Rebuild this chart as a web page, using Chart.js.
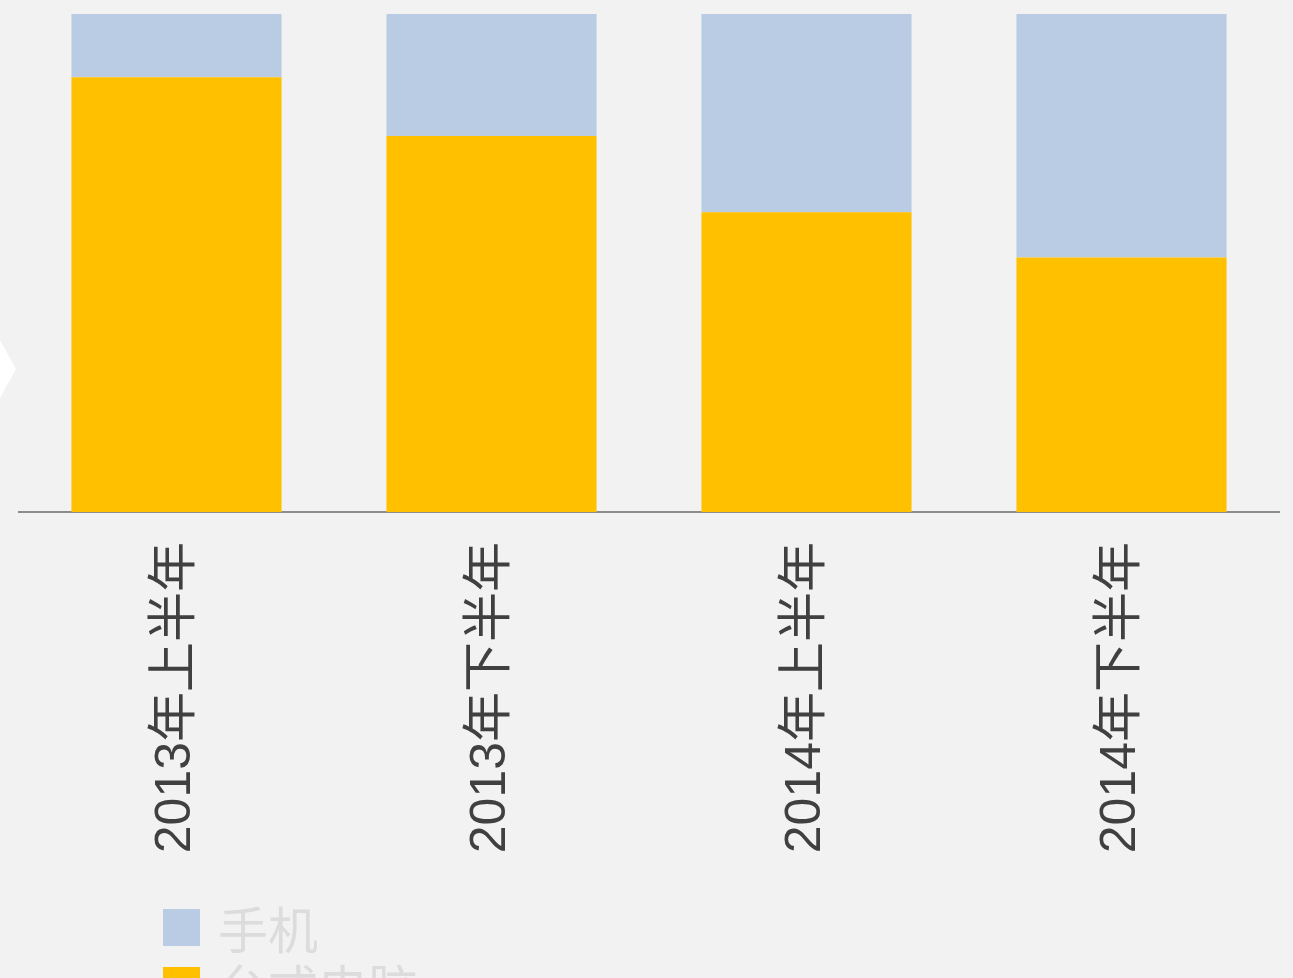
<!DOCTYPE html>
<html>
<head>
<meta charset="utf-8">
<script src="https://cdn.jsdelivr.net/npm/chart.js@4/dist/chart.umd.min.js"></script>
<style>
    html, body { margin: 0; padding: 0; background: #f2f2f2; overflow: hidden; }
    #wrap { position: relative; width: 1293px; height: 978px; overflow: hidden; background: #f2f2f2; }
    #chartBox { position: absolute; left: 0; top: 0; width: 1293px; height: 890px; }
    #chevron { position: absolute; left: 0; top: 340px; width: 16px; height: 58px; background: #ffffff;
        clip-path: polygon(0 0, 100% 50%, 0 100%); }
    #legend { position: absolute; left: 163px; top: 898px; font-family: "Noto Sans CJK SC", sans-serif; }
    .legend-item { display: flex; align-items: center; height: 58px; font-size: 50px; color: #dcdcdc; }
    .legend-box { width: 37px; height: 37px; margin-right: 18px; }
</style>
</head>
<body>
<div id="wrap">
    <div id="chartBox"><canvas id="shareChart"></canvas></div>
    <div id="chevron"></div>
    <div id="legend"></div>
</div>
<script>
// Data (percent share, stacked to 100)
const categories = ["2013年上半年", "2013年下半年", "2014年上半年", "2014年下半年"];
const desktopShare = [87.3, 75.5, 60.2, 51.1];   // 台式电脑
const mobileShare = [12.7, 24.5, 39.8, 48.9];    // 手机

const seriesNames = ["台式电脑", "手机"];
const seriesColors = ["#ffc000", "#b9cce4"];

const ctx = document.getElementById('shareChart').getContext('2d');

const shareChart = new Chart(ctx, {
    type: 'bar',
    data: {
        labels: categories,
        datasets: [
            {
                label: seriesNames[0],
                data: desktopShare,
                backgroundColor: seriesColors[0],
                barPercentage: 0.667,
                categoryPercentage: 1
            },
            {
                label: seriesNames[1],
                data: mobileShare,
                backgroundColor: seriesColors[1],
                barPercentage: 0.667,
                categoryPercentage: 1
            }
        ]
    },
    options: {
        responsive: true,
        maintainAspectRatio: false,
        animation: false,
        layout: { padding: { left: 19, right: 14, top: 14, bottom: 0 } },
        scales: {
            x: {
                stacked: true,
                grid: { display: false, drawTicks: false },
                border: { display: true, color: '#8c8c8c', width: 2 },
                ticks: {
                    color: '#404040',
                    padding: 30,
                    minRotation: 90,
                    maxRotation: 90,
                    font: { family: '"Liberation Sans", "Noto Sans CJK SC"', size: 50 }
                },
                afterFit: (scale) => { scale.height = 378; }
            },
            y: {
                stacked: true,
                display: false,
                min: 0,
                max: 100
            }
        },
        plugins: {
            legend: { display: false },
            tooltip: { enabled: false }
        }
    }
});

// Legend (vertical, top series first)
const legendEl = document.getElementById('legend');
[1, 0].forEach(i => {
    const item = document.createElement('div');
    item.className = 'legend-item';
    item.innerHTML = `<span class="legend-box" style="background:${seriesColors[i]}"></span><span>${seriesNames[i]}</span>`;
    legendEl.appendChild(item);
});
</script>
</body>
</html>
